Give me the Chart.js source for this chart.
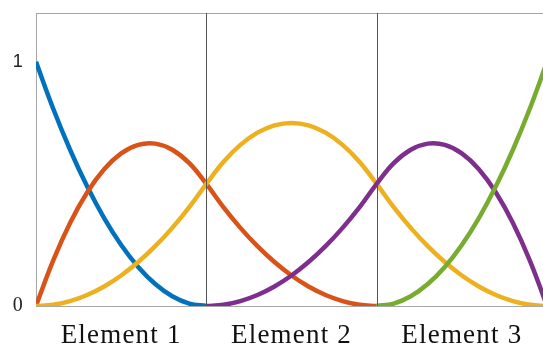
<!DOCTYPE html>
<html>
<head>
<meta charset="utf-8">
<script src="https://cdn.jsdelivr.net/npm/chart.js@4.4.1/dist/chart.umd.min.js"></script>
<style>
  html, body { margin: 0; padding: 0; background: #ffffff; overflow: hidden; }
  #wrap { position: relative; width: 547px; height: 348px; }
</style>
</head>
<body>
<div id="wrap"><canvas id="chart"></canvas></div>
<script>
// Sample positions along the parameter axis (three elements of width 1)
const xs = [0, 0.1, 0.2, 0.3, 0.4, 0.5, 0.6, 0.7, 0.8, 0.9,
            1, 1.1, 1.2, 1.3, 1.4, 1.5, 1.6, 1.7, 1.8, 1.9,
            2, 2.1, 2.2, 2.3, 2.4, 2.5, 2.6, 2.7, 2.8, 2.9, 3];

// Quadratic basis functions, each drawn only over its own support
const basis1 = [1, 0.81, 0.64, 0.49, 0.36, 0.25, 0.16, 0.09, 0.04, 0.01, 0,
  null, null, null, null, null, null, null, null, null, null,
  null, null, null, null, null, null, null, null, null, null];
const basis2 = [0, 0.185, 0.34, 0.465, 0.56, 0.625, 0.66, 0.665, 0.64, 0.585, 0.5,
  0.405, 0.32, 0.245, 0.18, 0.125, 0.08, 0.045, 0.02, 0.005, 0,
  null, null, null, null, null, null, null, null, null, null];
const basis3 = [0, 0.005, 0.02, 0.045, 0.08, 0.125, 0.18, 0.245, 0.32, 0.405, 0.5,
  0.59, 0.66, 0.71, 0.74, 0.75, 0.74, 0.71, 0.66, 0.59, 0.5,
  0.405, 0.32, 0.245, 0.18, 0.125, 0.08, 0.045, 0.02, 0.005, 0];
const basis4 = [null, null, null, null, null, null, null, null, null, null,
  0, 0.005, 0.02, 0.045, 0.08, 0.125, 0.18, 0.245, 0.32, 0.405, 0.5,
  0.585, 0.64, 0.665, 0.66, 0.625, 0.56, 0.465, 0.34, 0.185, 0];
const basis5 = [null, null, null, null, null, null, null, null, null, null,
  null, null, null, null, null, null, null, null, null, null,
  0, 0.01, 0.04, 0.09, 0.16, 0.25, 0.36, 0.49, 0.64, 0.81, 1];

// Element names, their centres, and the element boundaries
const elementNames = ['Element 1', 'Element 2', 'Element 3'];
const elementCentres = [0.5, 1.5, 2.5];
const boundaries = [1, 2];
const yTickValues = [0, 1];

const colors = ['#0072BD', '#D95319', '#EDB120', '#7E2F8E', '#77AC30'];
const series = [basis1, basis2, basis3, basis4, basis5];

const framePlugin = {
  id: 'frame',
  beforeDraw(chart) {
    // slightly open lettering for the axis captions
    chart.ctx.letterSpacing = '1.2px';
  },
  afterDatasetsDraw(chart) {
    const { ctx, chartArea, scales } = chart;
    ctx.save();
    ctx.lineWidth = 1;
    // top edge
    ctx.strokeStyle = '#a6a6a6';
    ctx.beginPath();
    ctx.moveTo(chartArea.left, chartArea.top + 0.5);
    ctx.lineTo(chartArea.right, chartArea.top + 0.5);
    ctx.stroke();
    // element boundaries
    ctx.strokeStyle = '#555555';
    boundaries.forEach(b => {
      const px = Math.round(scales.x.getPixelForValue(b)) + 0.5;
      ctx.beginPath();
      ctx.moveTo(px, chartArea.top);
      ctx.lineTo(px, chartArea.bottom);
      ctx.stroke();
    });
    ctx.restore();
  }
};

new Chart(document.getElementById('chart'), {
  type: 'line',
  data: {
    labels: xs,
    datasets: series.map((d, i) => ({
      data: d,
      borderColor: colors[i],
      borderWidth: 4.5,
      borderCapStyle: 'butt',
      pointRadius: 0,
      fill: false,
      spanGaps: false,
      tension: 0.4,
      order: series.length - i
    }))
  },
  options: {
    responsive: true,
    maintainAspectRatio: false,
    animation: false,
    layout: { padding: { top: 13, right: 0, left: 0, bottom: 0 } },
    plugins: { legend: { display: false }, tooltip: { enabled: false } },
    scales: {
      x: {
        type: 'linear',
        min: 0,
        max: 3,
        afterBuildTicks: s => { s.ticks = elementCentres.map(v => ({ value: v })); },
        afterFit: s => { s.height = 42; s.paddingLeft = 0; s.paddingRight = 0; },
        grid: { display: false, drawTicks: false, tickLength: 0 },
        border: { display: true, color: '#a6a6a6', width: 1 },
        ticks: {
          autoSkip: false,
          maxRotation: 0,
          padding: 14,
          color: '#111111',
          font: { family: '"Liberation Serif", "Times New Roman", serif', size: 27 },
          callback: (v, i) => elementNames[i]
        }
      },
      y: {
        type: 'linear',
        min: 0,
        max: 1.2,
        afterBuildTicks: s => { s.ticks = yTickValues.map(v => ({ value: v })); },
        afterFit: s => { s.width = 36; s.paddingTop = 0; s.paddingBottom = 0; },
        grid: { display: false, drawTicks: false, tickLength: 0 },
        border: { display: true, color: '#a6a6a6', width: 1 },
        ticks: {
          padding: 12,
          color: '#222222',
          font: ctx => (ctx.tick && ctx.tick.value === 0)
            ? { family: '"Liberation Serif", "Times New Roman", serif', size: 20 }
            : { family: '"Liberation Sans", Arial, sans-serif', size: 18 },
          callback: v => String(v)
        }
      }
    }
  },
  plugins: [framePlugin]
});
</script>
</body>
</html>
